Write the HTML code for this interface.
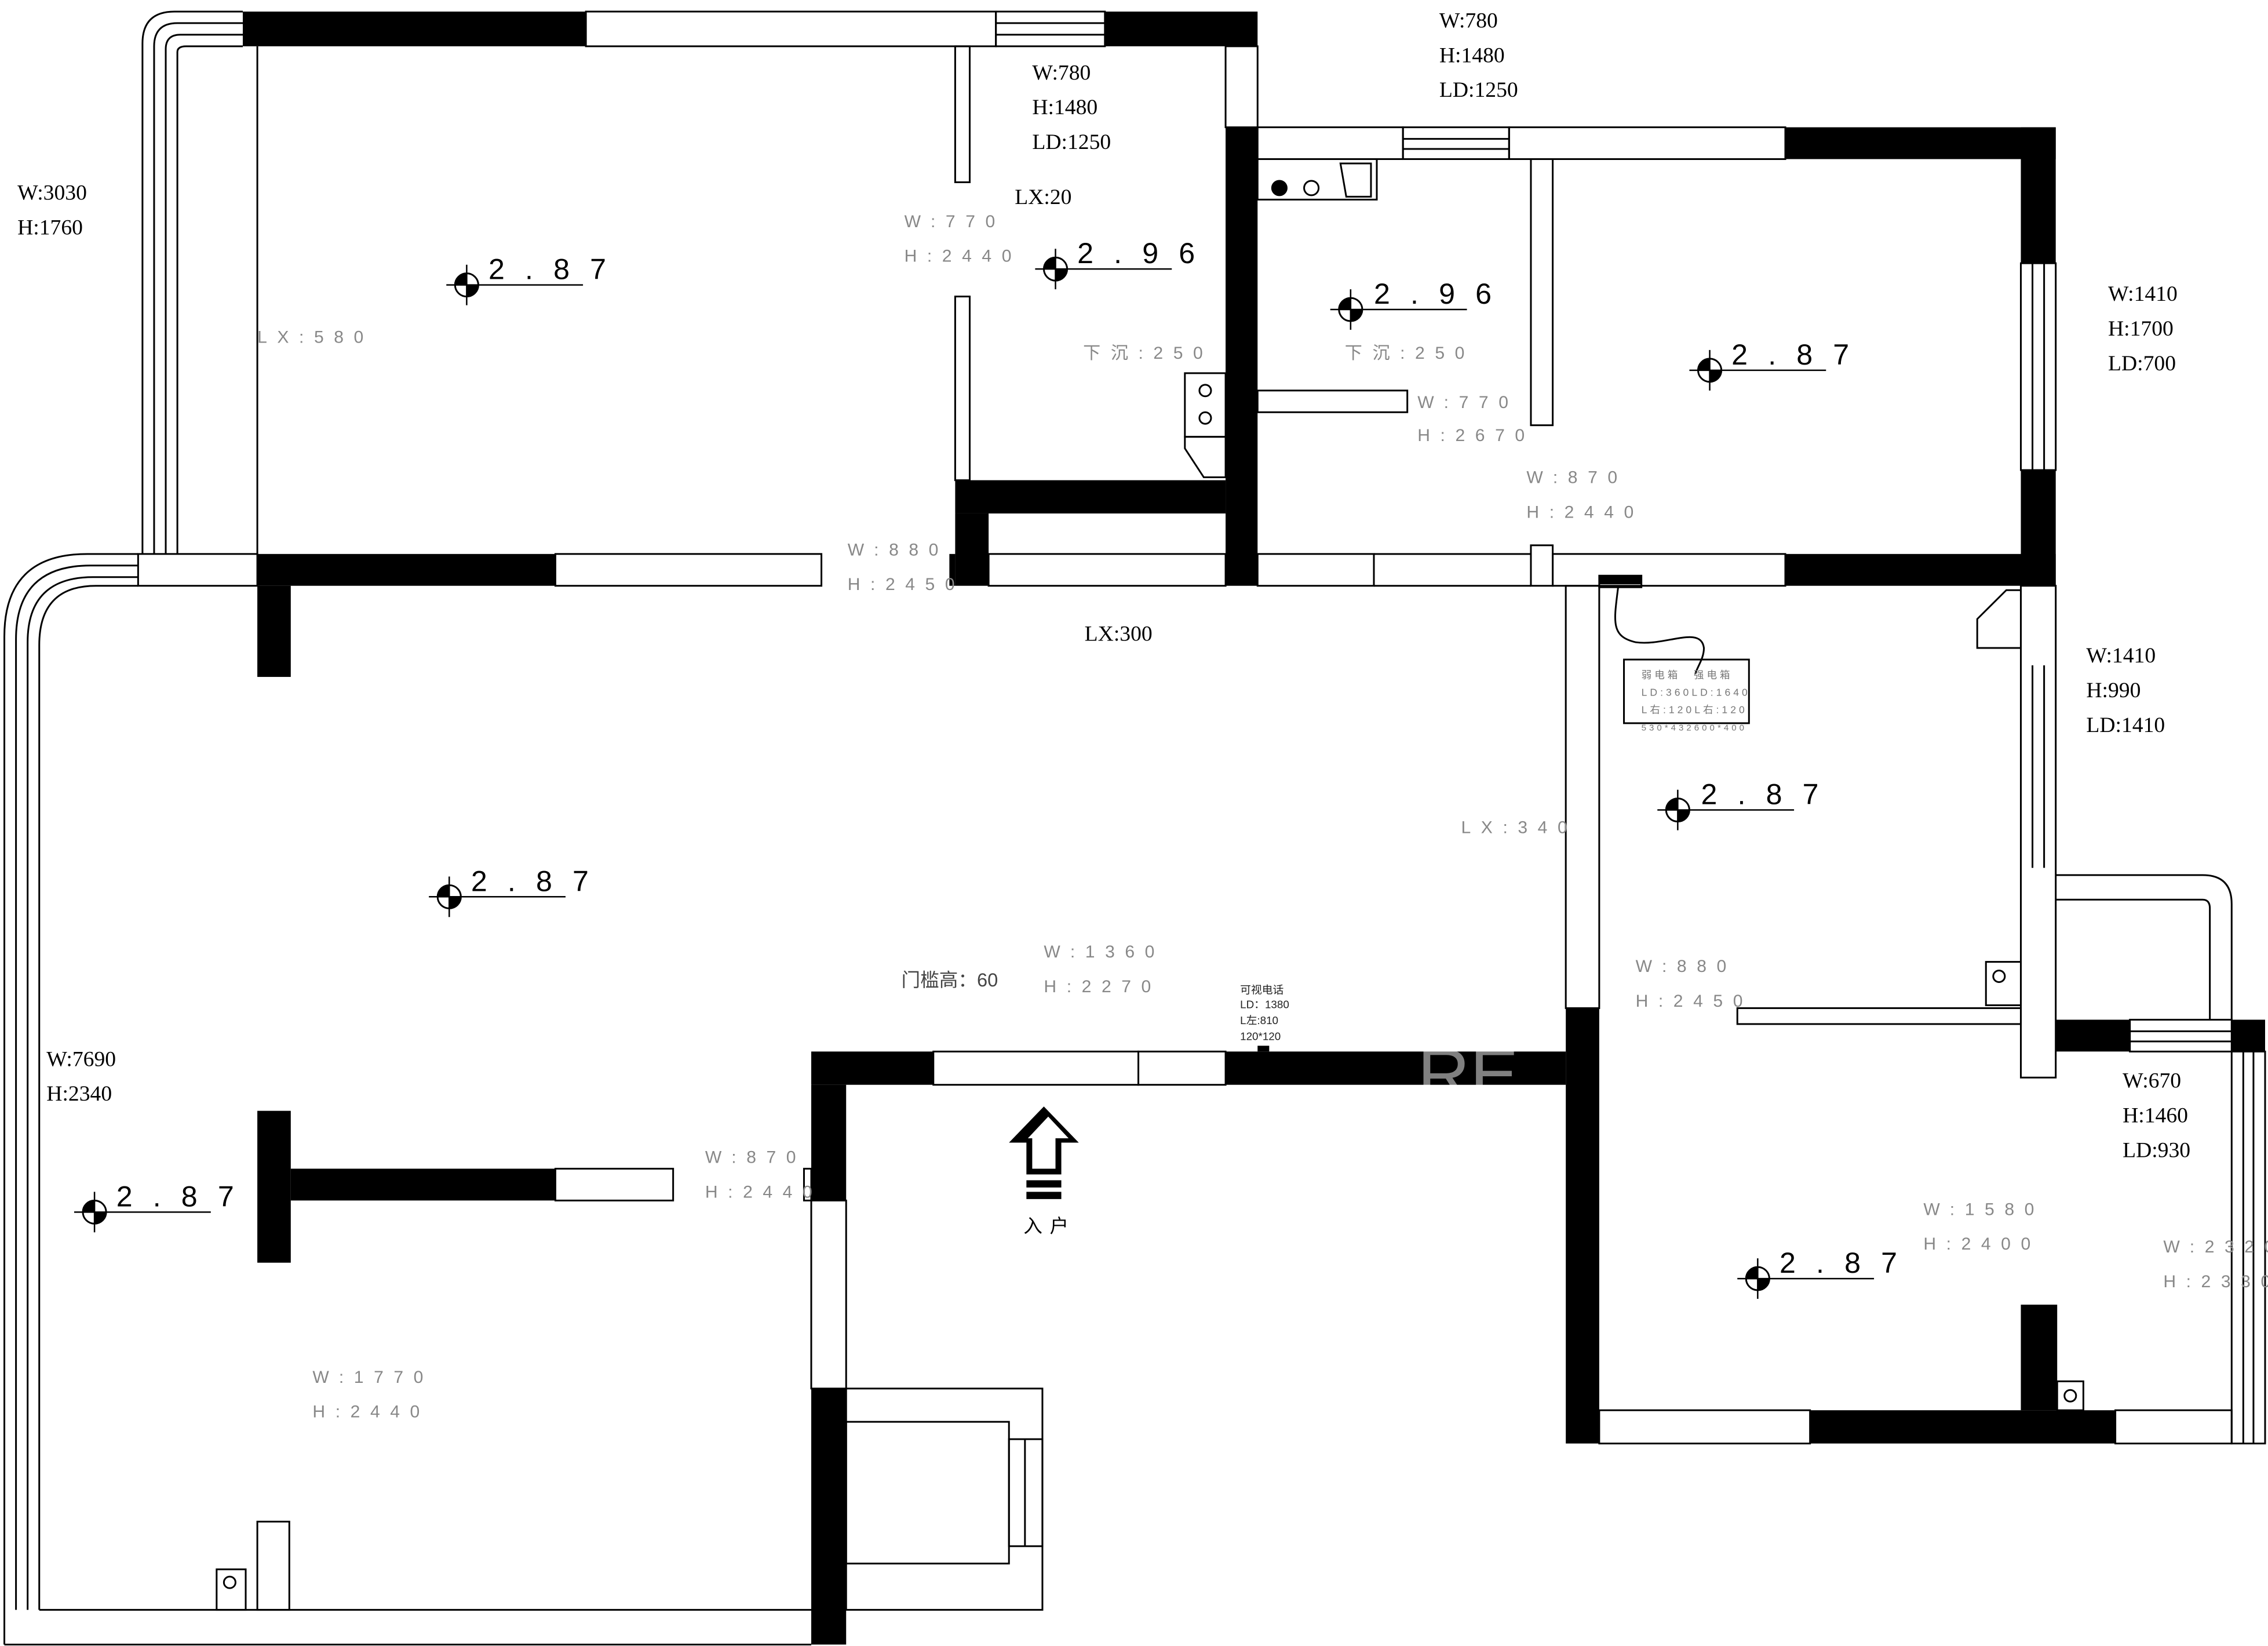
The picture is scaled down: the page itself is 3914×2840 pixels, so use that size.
<!DOCTYPE html>
<html><head><meta charset="utf-8"><style>
html,body{margin:0;padding:0;background:#fff;}
svg{display:block;}
svg text{font-family:"Liberation Sans","Noto Sans CJK SC",sans-serif;}
svg text.s{font-family:"Liberation Serif","Noto Serif CJK SC",serif;font-size:15px;fill:#000;}
.g{font-size:12px;fill:#888;letter-spacing:7px;}
.lv{font-size:20px;fill:#000;letter-spacing:14px;}
</style></head><body>
<svg width="3914" height="2840" viewBox="0 0 1560 1138" preserveAspectRatio="none" xmlns="http://www.w3.org/2000/svg">
<defs>
<g id="m"><circle r="8" fill="#fff" stroke="#000" stroke-width="1.2"/><path d="M0 0 L0 -8 A8 8 0 0 0 -8 0Z M0 0 L0 8 A8 8 0 0 0 8 0Z" fill="#000"/><line x1="-14" y1="0" x2="80" y2="0" stroke="#000" stroke-width="1"/><line x1="0" y1="-14" x2="0" y2="14" stroke="#000" stroke-width="1"/></g>
</defs>
<g fill="none" stroke="#000" stroke-width="1.2">
<path d="M98 383 V30 Q98 8 120 8 H167"/>
<path d="M106 383 V32 Q106 16 122 16 H167"/>
<path d="M114 383 V34 Q114 24 124 24 H167"/>
<path d="M122 383 V36 Q122 32 128 32 H167"/>
<path d="M95 383 H60 Q3 383 3 440 V1137"/>
<path d="M95 391 H62 Q11 391 11 442 V1113"/>
<path d="M95 399 H64 Q19 399 19 444 V1113"/>
<path d="M95 405 H66 Q27 405 27 446 V1113"/>
<line x1="3" y1="1137" x2="558" y2="1137"/>
<line x1="27" y1="1113" x2="558" y2="1113"/>
<rect x="403" y="8" width="282" height="24"/>
<rect x="685" y="8" width="75" height="24"/><line x1="685" y1="16" x2="760" y2="16"/><line x1="685" y1="24" x2="760" y2="24"/>
<line x1="177" y1="32" x2="177" y2="383"/>
<rect x="843" y="32" width="22" height="56"/>
<rect x="657" y="32" width="10" height="94"/>
<rect x="657" y="205" width="10" height="127"/>
<rect x="95" y="383" width="82" height="22"/>
<rect x="382" y="383" width="183" height="22"/>
<rect x="680" y="383" width="163" height="22"/>
<rect x="865" y="383" width="80" height="22"/>
<line x1="945" y1="383" x2="1053" y2="383"/><line x1="945" y1="405" x2="1053" y2="405"/>
<rect x="815" y="258" width="28" height="44"/><circle cx="829" cy="270" r="4"/><circle cx="829" cy="289" r="4"/>
<path d="M815 302 H843 V330 H828 L815 310Z"/>
<rect x="865" y="88" width="100" height="22"/>
<rect x="965" y="88" width="73" height="22"/><line x1="965" y1="96" x2="1038" y2="96"/><line x1="965" y1="103" x2="1038" y2="103"/>
<rect x="1038" y="88" width="190" height="22"/>
<rect x="865" y="110" width="82" height="28"/><circle cx="880" cy="130" r="5" fill="#000"/><circle cx="902" cy="130" r="5"/><path d="M922 113 H943 V136 H926Z"/>
<rect x="1053" y="110" width="15" height="184"/>
<rect x="865" y="270" width="103" height="15"/>
<rect x="1053" y="377" width="15" height="28"/>
<rect x="1068" y="383" width="160" height="22"/>
<rect x="1390" y="182" width="24" height="143"/><line x1="1398" y1="182" x2="1398" y2="325"/><line x1="1406" y1="182" x2="1406" y2="325"/>
<rect x="1077" y="405" width="23" height="292"/>
<rect x="1390" y="405" width="24" height="340"/><line x1="1398" y1="460" x2="1398" y2="600"/><line x1="1406" y1="460" x2="1406" y2="600"/>
<path d="M1360 448 V428 L1380 408 H1390 V448Z"/>
<rect x="1366" y="665" width="24" height="30"/><circle cx="1375" cy="675" r="4"/>
<rect x="1195" y="697" width="195" height="11"/>
<path d="M1414 605 H1515 Q1535 605 1535 625 V705"/>
<path d="M1414 622 H1515 Q1520 622 1520 628 V705"/>
<rect x="1465" y="705" width="70" height="22"/><line x1="1465" y1="713" x2="1535" y2="713"/><line x1="1465" y1="720" x2="1535" y2="720"/>
<rect x="1535" y="727" width="23" height="271"/><line x1="1543" y1="727" x2="1543" y2="998"/><line x1="1550" y1="727" x2="1550" y2="998"/>
<rect x="1100" y="975" width="145" height="23"/>
<rect x="1455" y="975" width="80" height="23"/>
<rect x="1415" y="955" width="18" height="20"/><circle cx="1424" cy="965" r="4"/>
<rect x="642" y="727" width="141" height="23"/><rect x="783" y="727" width="60" height="23"/>
<rect x="558" y="830" width="24" height="130"/>
<rect x="582" y="960" width="135" height="153"/>
<rect x="582" y="983" width="112" height="98"/>
<rect x="694" y="995" width="23" height="74"/><line x1="705" y1="995" x2="705" y2="1069"/>
<rect x="382" y="808" width="81" height="22"/>
<rect x="553" y="808" width="5" height="22"/>
<rect x="177" y="1052" width="22" height="61"/>
<rect x="149" y="1085" width="20" height="28"/><circle cx="158" cy="1094" r="4"/>
<rect x="1100" y="398" width="29" height="8"/>
<path d="M1113 406 C1110 430 1108 440 1125 444 C1145 447 1170 432 1172 448 C1172 455 1168 460 1166 466"/>
<rect x="1117" y="456" width="86" height="44"/>
</g>
<g fill="#000">
<rect x="167" y="8" width="236" height="24"/>
<rect x="760" y="8" width="105" height="24"/>
<rect x="843" y="88" width="22" height="317"/>
<rect x="657" y="332" width="186" height="23"/>
<rect x="657" y="355" width="23" height="50"/>
<rect x="653" y="383" width="4" height="22"/>
<rect x="177" y="383" width="205" height="22"/>
<rect x="177" y="405" width="23" height="63"/>
<rect x="1228" y="88" width="186" height="22"/>
<rect x="1390" y="88" width="24" height="94"/>
<rect x="1390" y="325" width="24" height="80"/>
<rect x="1228" y="383" width="186" height="22"/>
<rect x="1100" y="398" width="29" height="6"/>
<rect x="1414" y="705" width="51" height="22"/>
<rect x="1535" y="705" width="23" height="22"/>
<rect x="558" y="727" width="84" height="23"/>
<rect x="558" y="750" width="24" height="80"/>
<rect x="558" y="960" width="24" height="177"/>
<rect x="843" y="727" width="234" height="23"/>
<rect x="1077" y="697" width="23" height="301"/>
<rect x="1245" y="975" width="210" height="23"/>
<rect x="1390" y="902" width="25" height="73"/>
<rect x="177" y="768" width="23" height="105"/>
<rect x="200" y="808" width="182" height="22"/>
<rect x="865" y="723" width="8" height="4"/>
<path d="M718 765 L742 790 H730 V812 H706 V790 H694Z"/>
<rect x="706" y="816" width="24" height="5"/><rect x="706" y="824" width="24" height="5"/>
</g>
<path d="M721 772 L735 787 H726 V808 H710 V787 H707Z" fill="#fff"/>
<text x="975" y="760" font-size="50" fill="#fff" opacity="0.5" font-family="Liberation Serif">RE</text>
<use href="#m" x="321" y="197"/><text class="lv" x="336" y="193">2.87</text>
<use href="#m" x="726" y="186"/><text class="lv" x="741" y="182">2.96</text>
<use href="#m" x="929" y="214"/><text class="lv" x="945" y="210">2.96</text>
<use href="#m" x="1176" y="256"/><text class="lv" x="1191" y="252">2.87</text>
<use href="#m" x="1154" y="560"/><text class="lv" x="1170" y="556">2.87</text>
<use href="#m" x="309" y="620"/><text class="lv" x="324" y="616">2.87</text>
<use href="#m" x="65" y="838"/><text class="lv" x="80" y="834">2.87</text>
<use href="#m" x="1209" y="884"/><text class="lv" x="1224" y="880">2.87</text>
<g>
<text class="s" x="12" y="138">W:3030</text><text class="s" x="12" y="162">H:1760</text>
<text class="s" x="710" y="55">W:780</text><text class="s" x="710" y="79">H:1480</text><text class="s" x="710" y="103">LD:1250</text>
<text class="s" x="698" y="141">LX:20</text>
<text class="s" x="990" y="19">W:780</text><text class="s" x="990" y="43">H:1480</text><text class="s" x="990" y="67">LD:1250</text>
<text class="s" x="1450" y="208">W:1410</text><text class="s" x="1450" y="232">H:1700</text><text class="s" x="1450" y="256">LD:700</text>
<text class="s" x="1435" y="458">W:1410</text><text class="s" x="1435" y="482">H:990</text><text class="s" x="1435" y="506">LD:1410</text>
<text class="s" x="746" y="443">LX:300</text>
<text class="s" x="32" y="737">W:7690</text><text class="s" x="32" y="761">H:2340</text>
<text class="s" x="1460" y="752">W:670</text><text class="s" x="1460" y="776">H:1460</text><text class="s" x="1460" y="800">LD:930</text>
</g>
<g class="g">
<text x="622" y="157">W:770</text><text x="622" y="181">H:2440</text>
<text x="177" y="237">LX:580</text>
<text x="745" y="248">下沉:250</text>
<text x="925" y="248">下沉:250</text>
<text x="975" y="282">W:770</text><text x="975" y="305">H:2670</text>
<text x="1050" y="334">W:870</text><text x="1050" y="358">H:2440</text>
<text x="583" y="384">W:880</text><text x="583" y="408">H:2450</text>
<text x="1005" y="576">LX:340</text>
<text x="718" y="662">W:1360</text><text x="718" y="686">H:2270</text>
<text x="1125" y="672">W:880</text><text x="1125" y="696">H:2450</text>
<text x="485" y="804">W:870</text><text x="485" y="828">H:2440</text>
<text x="1323" y="840">W:1580</text><text x="1323" y="864">H:2400</text>
<text x="1488" y="866">W:2320</text><text x="1488" y="890">H:2330</text>
<text x="215" y="956">W:1770</text><text x="215" y="980">H:2440</text>
</g>
<text x="620" y="682" font-size="13" fill="#444">门槛高：60</text>
<text x="704" y="852" font-size="13" fill="#000" letter-spacing="5">入户</text>
<g font-size="7.5" fill="#222">
<text x="853" y="687">可视电话</text><text x="853" y="697">LD：1380</text><text x="853" y="708">L左:810</text><text x="853" y="719">120*120</text>
</g>
<g font-size="7" fill="#777" letter-spacing="2">
<text x="1129" y="469">弱电箱　强电箱</text>
<text x="1129" y="481">LD:360LD:1640</text>
<text x="1129" y="493">L右:120L右:120</text>
<text x="1129" y="505" font-size="6">530*432600*400</text>
</g>
</svg>
</body></html>
